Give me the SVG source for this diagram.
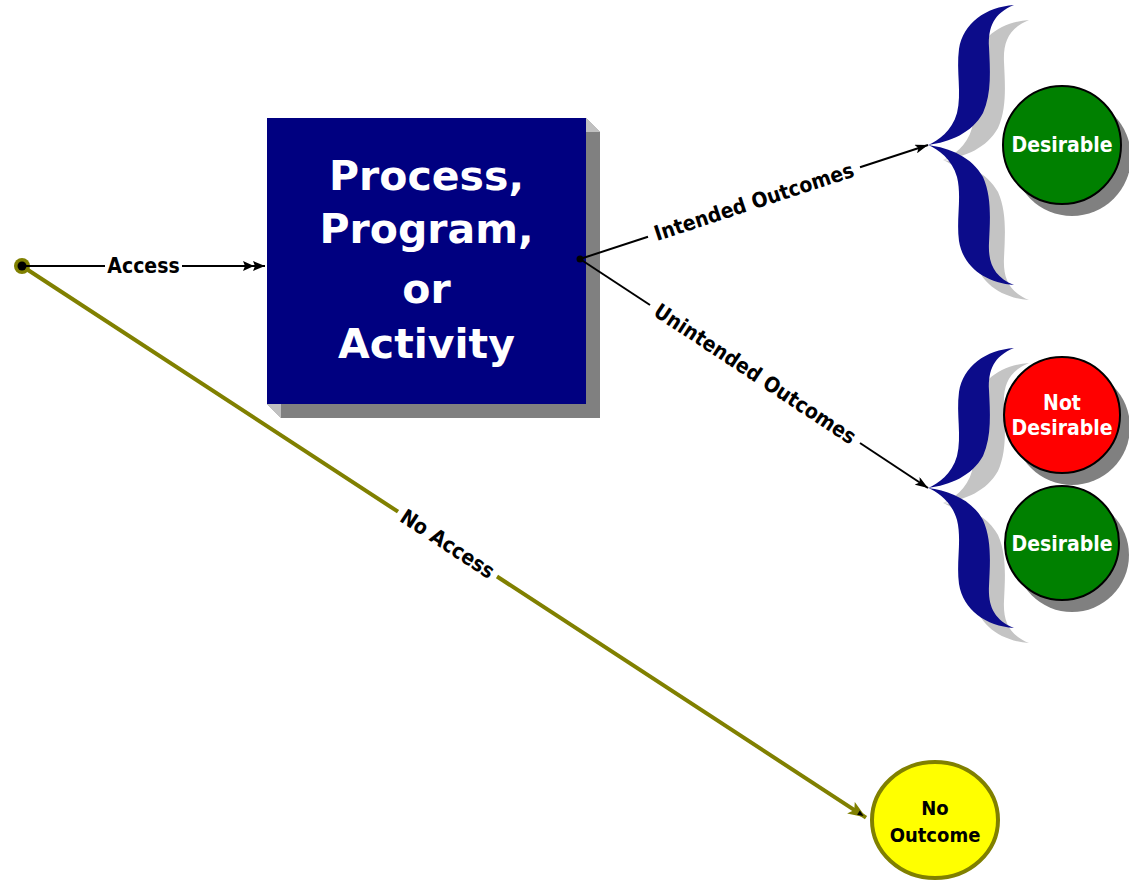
<svg xmlns="http://www.w3.org/2000/svg" xmlns:xlink="http://www.w3.org/1999/xlink" width="1129" height="880" viewBox="0 0 1129 880">
  <style>
    .lbl { font-family: "DejaVu Sans Condensed", "DejaVu Sans", Verdana, sans-serif; font-weight: bold; font-size: 21px; fill: #000; text-anchor: middle; }
    .big { font-family: "DejaVu Sans", Verdana, sans-serif; font-weight: bold; font-size: 41px; fill: #fff; text-anchor: middle; }
    .ctext { font-family: "DejaVu Sans Condensed", "DejaVu Sans", Verdana, sans-serif; font-weight: bold; font-size: 21px; fill: #fff; text-anchor: middle; }
    .ytext { font-family: "DejaVu Sans Condensed", "DejaVu Sans", Verdana, sans-serif; font-weight: bold; font-size: 20px; fill: #000; text-anchor: middle; }
    .blk { stroke: #000; stroke-width: 2; fill: none; }
    .olv { stroke: #808000; stroke-width: 4; fill: none; }
    .brace { fill: #0c0c8a; }
    .braceShadow { fill: #c4c4c4; }
    .cshadow { fill: #808080; }
  </style>
  <defs>
    <marker id="arr" viewBox="0 0 13 9" refX="13" refY="4.5" markerWidth="13" markerHeight="9" markerUnits="userSpaceOnUse" orient="auto">
      <path d="M0,0 L13,4.5 L0,9 L3,4.5 Z" fill="#000"/>
    </marker>
    <marker id="dbl" viewBox="0 0 22 10" refX="22" refY="5" markerWidth="22" markerHeight="10" markerUnits="userSpaceOnUse" orient="auto">
      <path d="M0,0 L11,5 L0,10 L2,5 Z M10,0 L22,5 L10,10 L12,5 Z" fill="#000"/>
    </marker>
    <marker id="oarr" viewBox="0 0 18 14" refX="18" refY="7" markerWidth="18" markerHeight="14" markerUnits="userSpaceOnUse" orient="auto">
      <path d="M0,0 L18,7 L0,14 L4,7 Z" fill="#808000"/>
      <path d="M9,4.5 L15,7 L9,9.5 Z" fill="#000"/>
    </marker>
    <path id="braceHalf" d="M0,0 C10,-4 24,-14 29,-32 C34,-52 28,-74 31,-96 C35,-122 58,-138 86,-140 C66,-132 60,-118 61,-98 C62,-76 64,-52 55,-32 C44,-12 22,-3 0,0 Z"/>
    <g id="braceShape">
      <use xlink:href="#braceHalf" href="#braceHalf"/>
      <use xlink:href="#braceHalf" href="#braceHalf" transform="scale(1,-1)"/>
    </g>
  </defs>

  <rect x="0" y="0" width="1129" height="880" fill="#fff"/>

  <!-- Start point -->
  <g id="start">
    <circle cx="22" cy="266" r="8" fill="#808000"/>
    <circle cx="22" cy="266" r="4.5" fill="#000"/>
  </g>

  <!-- Process box -->
  <g id="process">
    <polygon points="586,118 600,132 600,418 281,418 267,404" fill="#808080"/>
    <polygon points="586,118 600,132 586,132" fill="#c0c0c0"/>
    <polygon points="267,404 281,418 281,404" fill="#c0c0c0"/>
    <rect x="267" y="118" width="319" height="286" fill="#000080"/>
    <text class="big" x="426.5" y="190">Process,</text>
    <text class="big" x="426.5" y="243">Program,</text>
    <text class="big" x="426.5" y="303">or</text>
    <text class="big" x="426.5" y="358">Activity</text>
  </g>

  <!-- Braces -->
  <g id="brace-intended">
    <use xlink:href="#braceShape" href="#braceShape" class="braceShadow" transform="translate(943,160)"/>
    <use xlink:href="#braceShape" href="#braceShape" class="brace" transform="translate(928,145)"/>
  </g>
  <g id="brace-unintended">
    <use xlink:href="#braceShape" href="#braceShape" class="braceShadow" transform="translate(943,503)"/>
    <use xlink:href="#braceShape" href="#braceShape" class="brace" transform="translate(928,488)"/>
  </g>

  <!-- Connectors -->
  <g id="connectors">
    <line class="blk" x1="22" y1="266" x2="105" y2="266"/>
    <line class="blk" x1="182" y1="266" x2="265" y2="266" marker-end="url(#dbl)"/>
    <text class="lbl" x="143.5" y="273">Access</text>

    <line class="olv" x1="28" y1="270" x2="398" y2="511.7"/>
    <line class="olv" x1="497" y1="576.5" x2="866" y2="817.6" marker-end="url(#oarr)"/>
    <text class="lbl" transform="translate(447.5,544) rotate(33.17)" x="0" y="7">No Access</text>

    <line class="blk" x1="580" y1="259" x2="648" y2="236.7"/>
    <line class="blk" x1="860" y1="167.3" x2="928" y2="145" marker-end="url(#arr)"/>
    <text class="lbl" transform="translate(754,202) rotate(-18.13)" x="0" y="7">Intended Outcomes</text>

    <line class="blk" x1="580" y1="259" x2="650" y2="305"/>
    <line class="blk" x1="860" y1="443" x2="928" y2="488" marker-end="url(#arr)"/>
    <text class="lbl" transform="translate(755,374) rotate(33.35)" x="0" y="7">Unintended Outcomes</text>
    <circle cx="580" cy="259" r="3.5" fill="#000"/>
  </g>

  <!-- Outcome nodes -->
  <g id="desirable-1">
    <circle class="cshadow" cx="1072" cy="157" r="59"/>
    <circle cx="1062" cy="145" r="59" fill="#008000" stroke="#000" stroke-width="2"/>
    <text class="ctext" x="1062" y="152">Desirable</text>
  </g>
  <g id="not-desirable">
    <circle class="cshadow" cx="1072" cy="427" r="58"/>
    <circle cx="1062" cy="415" r="58" fill="#ff0000" stroke="#000" stroke-width="2"/>
    <text class="ctext" x="1062" y="410">Not</text>
    <text class="ctext" x="1062" y="435">Desirable</text>
  </g>
  <g id="desirable-2">
    <circle class="cshadow" cx="1072" cy="555" r="57"/>
    <circle cx="1062" cy="543" r="57" fill="#008000" stroke="#000" stroke-width="2"/>
    <text class="ctext" x="1062" y="551">Desirable</text>
  </g>
  <g id="no-outcome">
    <ellipse cx="935" cy="820" rx="63" ry="58" fill="#ffff00" stroke="#808000" stroke-width="4"/>
    <text class="ytext" x="935" y="815">No</text>
    <text class="ytext" x="935" y="842">Outcome</text>
  </g>
</svg>
